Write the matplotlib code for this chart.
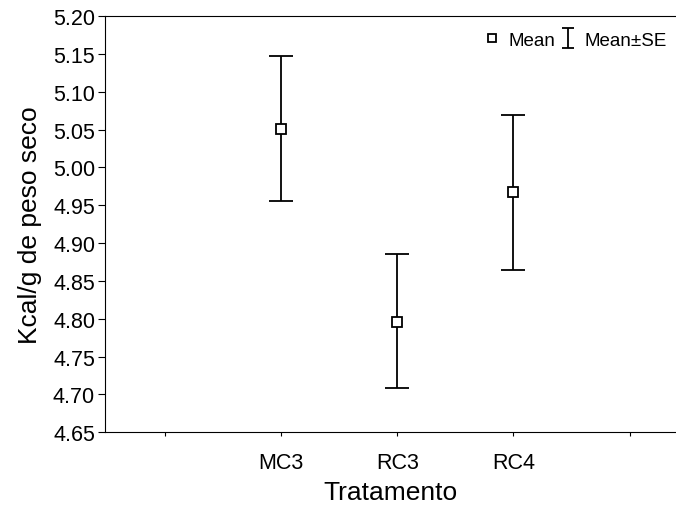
import matplotlib
matplotlib.use("Agg")
import matplotlib.pyplot as plt
from matplotlib.lines import Line2D
from matplotlib.path import Path

# values
treatments = ["MC3", "RC3", "RC4"]
means = [5.051, 4.796, 4.967]
upper = [5.147, 4.885, 5.070]
lower = [4.956, 4.708, 4.865]

y_ticks = [4.65, 4.70, 4.75, 4.80, 4.85, 4.90, 4.95, 5.00, 5.05, 5.10, 5.15, 5.20]

plt.rcParams["font.family"] = ["Liberation Sans", "DejaVu Sans"]

fig = plt.figure(figsize=(6.76, 5.06), dpi=100)
ax = fig.add_axes([0.155, 0.144, 0.845, 0.822])

x = [1, 2, 3]
err_lo = [m - lo for m, lo in zip(means, lower)]
err_hi = [up - m for m, up in zip(means, upper)]

ax.errorbar(x, means, yerr=[err_lo, err_hi], fmt="none", ecolor="black",
            elinewidth=1.3, capsize=8.5, capthick=1.3)
ax.plot(x, means, linestyle="none", marker="s", markersize=6.5,
        markerfacecolor="white", markeredgecolor="black", markeredgewidth=1.3)

ax.set_xlim(-0.52, 4.4)
ax.set_xticks([0, 1, 2, 3, 4])
ax.set_xticklabels([""] + treatments + [""])
ax.set_ylim(4.65, 5.20)
ax.set_yticks(y_ticks)
ax.set_yticklabels([f"{v:.2f}" for v in y_ticks])

ax.tick_params(axis="both", labelsize=15.5, width=0.8, direction="out")
ax.tick_params(axis="y", length=5, pad=2)
ax.tick_params(axis="x", length=3, pad=11)
for side in ["left", "bottom", "top"]:
    ax.spines[side].set_linewidth(0.8)
ax.spines["right"].set_visible(False)

ax.set_xlabel("Tratamento", fontsize=19, labelpad=5)
ax.set_ylabel("Kcal/g de peso seco", fontsize=19, labelpad=8)

# legend: square marker for mean, I-beam for mean±SE
ibeam = Path([(-0.6, 1), (0.6, 1), (0, 1), (0, -1), (-0.6, -1), (0.6, -1)],
             [Path.MOVETO, Path.LINETO, Path.MOVETO, Path.LINETO,
              Path.MOVETO, Path.LINETO])
mean_handle = Line2D([], [], linestyle="none", marker="s", markersize=6,
                     markerfacecolor="white", markeredgecolor="black",
                     markeredgewidth=1.3)
se_handle = Line2D([], [], linestyle="none", marker=ibeam, markersize=15,
                   markerfacecolor="none", markeredgecolor="black",
                   markeredgewidth=1.3)
ax.legend([mean_handle, se_handle], ["Mean", "Mean±SE"], loc="upper right",
          ncol=2, frameon=False, fontsize=13.5, handlelength=0.8,
          handletextpad=0.45, columnspacing=0.3, borderaxespad=0.1,
          bbox_to_anchor=(1.0, 0.985))

fig.savefig("out.png", dpi=100)
